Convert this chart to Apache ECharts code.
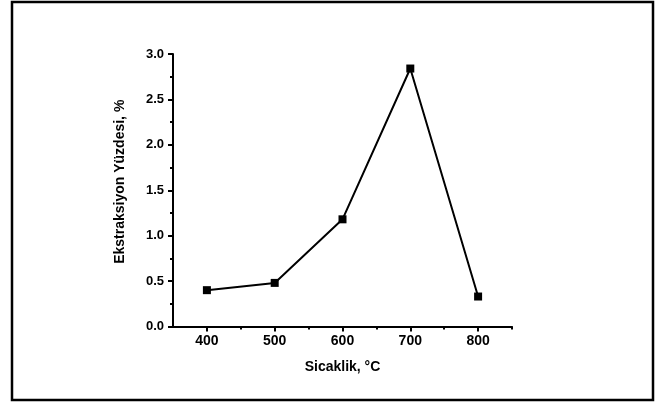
<!DOCTYPE html>
<html>
<head>
<meta charset="utf-8">
<script src="https://cdn.jsdelivr.net/npm/echarts@6/dist/echarts.min.js"></script>
<style>
  html, body { margin: 0; padding: 0; background: #fff; }
  #chart { width: 665px; height: 403px; }
</style>
</head>
<body>
<div id="chart"></div>
<script>
// Extraction percentage versus temperature
const temperatures = [400, 500, 600, 700, 800];
const extraction = [0.40, 0.48, 1.18, 2.84, 0.33];
const xTicks = [400, 500, 600, 700, 800];
const xMinorTicks = [450, 550, 650, 750, 850];
const yTicks = [0.0, 0.5, 1.0, 1.5, 2.0, 2.5, 3.0];

const FONT = 'Liberation Sans, Arial, sans-serif';
const points = temperatures.map((t, i) => [t, extraction[i]]);

const xBase = { type: 'value', min: 350, max: 850, interval: 50, gridIndex: 0 };

const chart = echarts.init(document.getElementById('chart'), null, { renderer: 'canvas' });
chart.setOption({
  animation: false,
  backgroundColor: '#ffffff',
  grid: { left: 173, right: 153, top: 54, bottom: 76.5, containLabel: false },
  graphic: [{
    type: 'rect',
    shape: { x: 12, y: 2, width: 641, height: 398 },
    style: { fill: 'none', stroke: '#000', lineWidth: 2.5 },
    silent: true
  }],
  xAxis: [
    Object.assign({}, xBase, {
      name: 'Sicaklik, °C',
      nameLocation: 'middle',
      nameGap: 34,
      nameTextStyle: { fontFamily: FONT, fontWeight: 'bold', fontSize: 14, color: '#000' },
      axisLine: { show: true, lineStyle: { color: '#000', width: 2 } },
      axisTick: {
        show: true, inside: false, length: 5,
        customValues: xTicks,
        lineStyle: { color: '#000', width: 2 }
      },
      axisLabel: {
        fontFamily: FONT, fontWeight: 'bold', fontSize: 14, color: '#000', margin: 8,
        customValues: xTicks,
        formatter: v => String(v)
      },
      splitLine: { show: false }
    }),
    // short minor ticks between the labelled temperatures
    Object.assign({}, xBase, {
      position: 'bottom',
      axisLine: { show: false },
      axisTick: {
        show: true, inside: false, length: 3,
        customValues: xMinorTicks,
        lineStyle: { color: '#000', width: 2 }
      },
      axisLabel: { show: false },
      splitLine: { show: false }
    })
  ],
  yAxis: {
    type: 'value',
    min: 0, max: 3, interval: 0.5,
    name: 'Ekstraksiyon Yüzdesi, %',
    nameLocation: 'middle',
    nameGap: 46,
    nameTextStyle: {
      fontFamily: FONT, fontWeight: 'bold', fontSize: 14, color: '#000',
      padding: [0, 0, 0, 17]
    },
    axisLine: { show: true, lineStyle: { color: '#000', width: 2 } },
    axisTick: { show: true, inside: false, length: 5, lineStyle: { color: '#000', width: 2 } },
    minorTick: { show: true, splitNumber: 2, length: 3, lineStyle: { color: '#000', width: 2 } },
    axisLabel: {
      fontFamily: FONT, fontWeight: 'bold', fontSize: 13, color: '#000', margin: 9,
      formatter: v => (yTicks.indexOf(v) >= 0 ? v.toFixed(1) : '')
    },
    splitLine: { show: false }
  },
  series: [{
    type: 'line',
    xAxisIndex: 0,
    data: points,
    symbol: 'rect',
    symbolSize: 8,
    itemStyle: { color: '#000' },
    lineStyle: { color: '#000', width: 2 }
  }]
});
</script>
</body>
</html>
